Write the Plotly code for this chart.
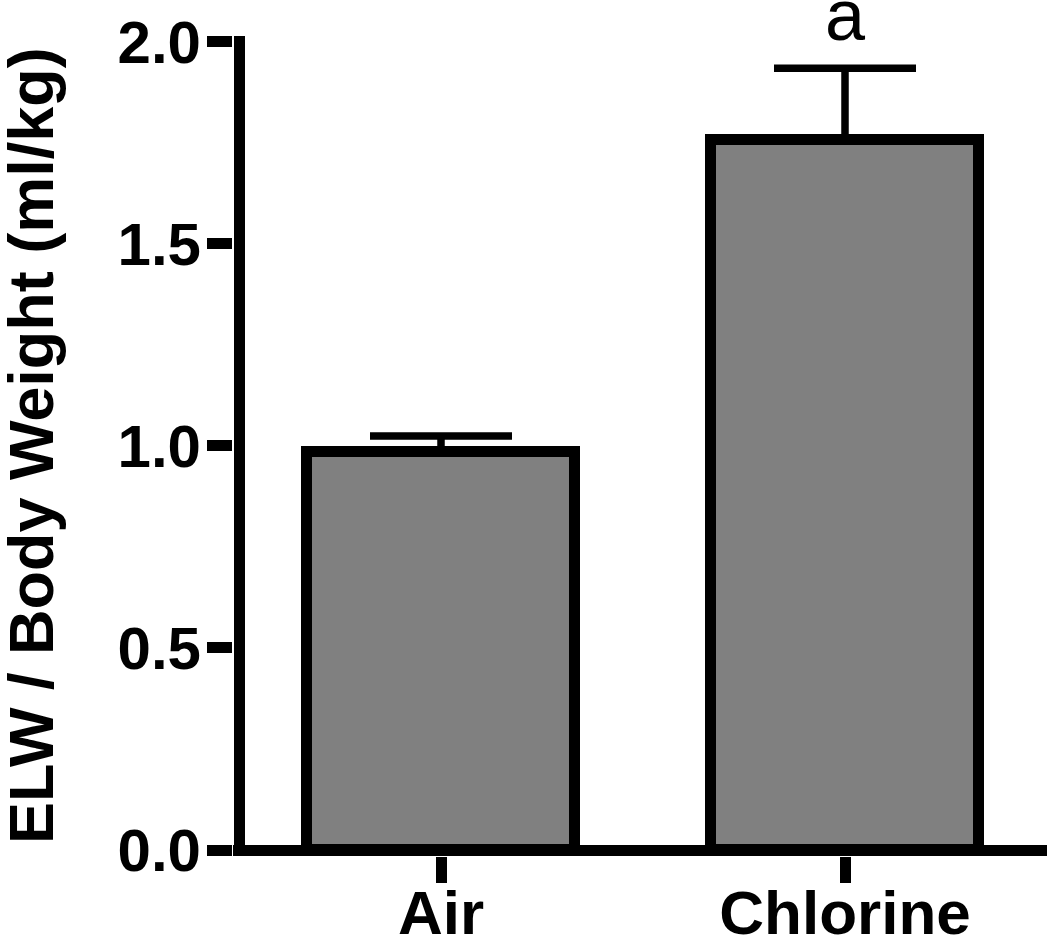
import plotly.graph_objects as go

categories = ["Air", "Chlorine"]
values = [0.985, 1.756]
errors = [0.039, 0.178]
y_tickvals = [0.0, 0.5, 1.0, 1.5, 2.0]
y_ticktext = ["0.0", "0.5", "1.0", "1.5", "2.0"]
sig_labels = ["", "a"]
y_title = "ELW / Body Weight (ml/kg)"

FONT = "Liberation Sans, Arial, sans-serif"
xpos = [i + 0.5 for i in range(len(categories))]

fig = go.Figure()
fig.add_trace(go.Bar(
    x=xpos, y=values, width=0.665,
    marker=dict(color="#808080", line=dict(color="black", width=11)),
    error_y=dict(type="data", symmetric=False, array=errors,
                 arrayminus=[0] * len(errors), color="black",
                 thickness=7.5, width=71),
    showlegend=False, cliponaxis=False,
))

for xp, v, e, s in zip(xpos, values, errors, sig_labels):
    if s:
        fig.add_annotation(x=xp, y=v + e + 0.027, text=s, showarrow=False,
                           xanchor="center", yanchor="bottom",
                           font=dict(family=FONT, size=72, color="black"))

# y-axis title, placed as rotated text left of the tick labels
fig.add_annotation(xref="paper", yref="paper", x=0, y=0.5, xshift=-202,
                   text=y_title, textangle=-90, showarrow=False,
                   xanchor="center", yanchor="middle",
                   font=dict(family=FONT, size=63, color="black", weight="bold"))

fig.update_layout(
    width=1050, height=943,
    margin=dict(l=233, r=3, t=36, b=87, pad=0, autoexpand=False),
    paper_bgcolor="white", plot_bgcolor="white",
    font=dict(family=FONT, color="black"),
    bargap=0,
)
fig.update_xaxes(
    range=[-6 / 404, 2.0], showgrid=False, showline=False, automargin=False,
    zeroline=True, zerolinecolor="black", zerolinewidth=11,
    tickmode="array", tickvals=xpos, ticktext=categories,
    ticks="outside", ticklen=26, tickwidth=11, tickcolor="black",
    ticklabelstandoff=-23,
    tickfont=dict(family=FONT, size=62, color="black", weight="bold"),
)
fig.update_yaxes(
    range=[-6 / 404.25, 2.0 + 5.5 / 404.25], showgrid=False, showline=False,
    automargin=False,
    zeroline=True, zerolinecolor="black", zerolinewidth=11,
    tickmode="array", tickvals=y_tickvals, ticktext=y_ticktext,
    ticks="outside", ticklen=25, tickwidth=11, tickcolor="black",
    ticklabelstandoff=-6,
    tickfont=dict(family=FONT, size=60, color="black", weight="bold"),
)

# remove the browser's default 8px body margin so the figure fills the window
fig.write_html(
    "out.html",
    config={"displayModeBar": False},
    post_script="document.body.style.margin='0';document.body.style.overflow='hidden';",
)
